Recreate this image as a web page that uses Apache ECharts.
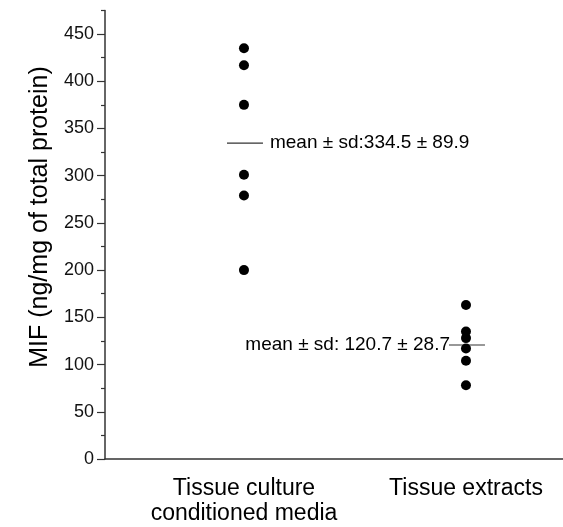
<!DOCTYPE html>
<html>
<head>
<meta charset="utf-8">
<script src="https://cdn.jsdelivr.net/npm/echarts@6/dist/echarts.min.js"></script>
<style>
  html, body { margin: 0; padding: 0; background: #fff; }
  #chart { width: 563px; height: 527px; }
</style>
</head>
<body>
<div id="chart"></div>
<script>
// groups on the x axis (placed at x = 1 and x = 2)
var categories = ['Tissue culture\nconditioned media', 'Tissue extracts'];
// individual measurements, ng/mg of total protein
var cultureValues = [435, 417, 375, 301, 279, 200];
var extractValues = [163, 135, 128, 117, 104, 78];
// summary shown next to each group
var meanValues = [334.5, 120.7];
var sdValues = [89.9, 28.7];
// y tick labels and minor ticks
var yMajorTicks = [0, 50, 100, 150, 200, 250, 300, 350, 400, 450];
var yMinorTicks = [25, 75, 125, 175, 225, 275, 325, 375, 425, 475];

var FONT = '"Liberation Sans", Arial, sans-serif';
var AXIS_COLOR = '#333';

var myChart = echarts.init(document.getElementById('chart'));

var points = [];
cultureValues.forEach(function (v) { points.push([1, v]); });
extractValues.forEach(function (v) { points.push([2, v]); });

var meanData = meanValues.map(function (m, i) { return [i + 1, m, sdValues[i]]; });

var option = {
    animation: false,
    backgroundColor: '#fff',
    grid: { left: 105, right: 0, top: 10.4, bottom: 68 },
    graphic: [{
        type: 'text',
        x: 40, y: 217,
        rotation: Math.PI / 2,
        style: {
            text: 'MIF (ng/mg of total protein)',
            fontSize: 25, fontFamily: FONT, fill: '#000',
            align: 'center', verticalAlign: 'middle'
        }
    }],
    xAxis: {
        type: 'value',
        min: 0.374, max: 2.437,
        splitLine: { show: false },
        axisLine: { show: true, lineStyle: { color: AXIS_COLOR, width: 1.5 } },
        axisTick: { show: false },
        axisLabel: {
            customValues: [1, 2],
            formatter: function (v) { return categories[Math.round(v) - 1]; },
            fontSize: 23, fontFamily: FONT, color: '#000',
            lineHeight: 25, margin: 17
        }
    },
    yAxis: [{
        type: 'value',
        min: 0, max: 475,
        position: 'left',
        splitLine: { show: false },
        axisLine: { show: true, onZero: false, lineStyle: { color: AXIS_COLOR, width: 1.5 } },
        axisTick: { show: true, customValues: yMajorTicks, length: 8, lineStyle: { color: AXIS_COLOR, width: 1.2 } },
        axisLabel: { customValues: yMajorTicks, fontSize: 18, fontFamily: FONT, color: '#111', margin: 11 }
    }, {
        type: 'value',
        min: 0, max: 475,
        position: 'left', offset: 0,
        splitLine: { show: false },
        axisLine: { show: false },
        axisTick: { show: true, customValues: yMinorTicks, length: 4, lineStyle: { color: AXIS_COLOR, width: 1.2 } },
        axisLabel: { show: false }
    }],
    series: [{
        type: 'custom',
        data: meanData,
        z: 1,
        renderItem: function (params, api) {
            var p = api.coord([api.value(0), api.value(1)]);
            var first = params.dataIndex === 0;
            var label = 'mean \u00b1 sd:' + (first ? '' : ' ') + api.value(1).toFixed(1) + ' \u00b1 ' + api.value(2).toFixed(1);
            return {
                type: 'group',
                children: [{
                    type: 'line',
                    shape: { x1: p[0] - 17, y1: p[1], x2: p[0] + 19, y2: p[1] },
                    style: { stroke: '#333', lineWidth: 1.2 }
                }, {
                    type: 'text',
                    style: {
                        text: label,
                        x: first ? p[0] + 26 : p[0] - 16,
                        y: p[1],
                        align: first ? 'left' : 'right',
                        verticalAlign: 'middle',
                        fontSize: 19, fontFamily: FONT, fill: '#000'
                    }
                }]
            };
        }
    }, {
        type: 'scatter',
        data: points,
        symbol: 'circle',
        symbolSize: 10,
        itemStyle: { color: '#000', opacity: 1 },
        z: 2
    }]
};

myChart.setOption(option);
</script>
</body>
</html>
